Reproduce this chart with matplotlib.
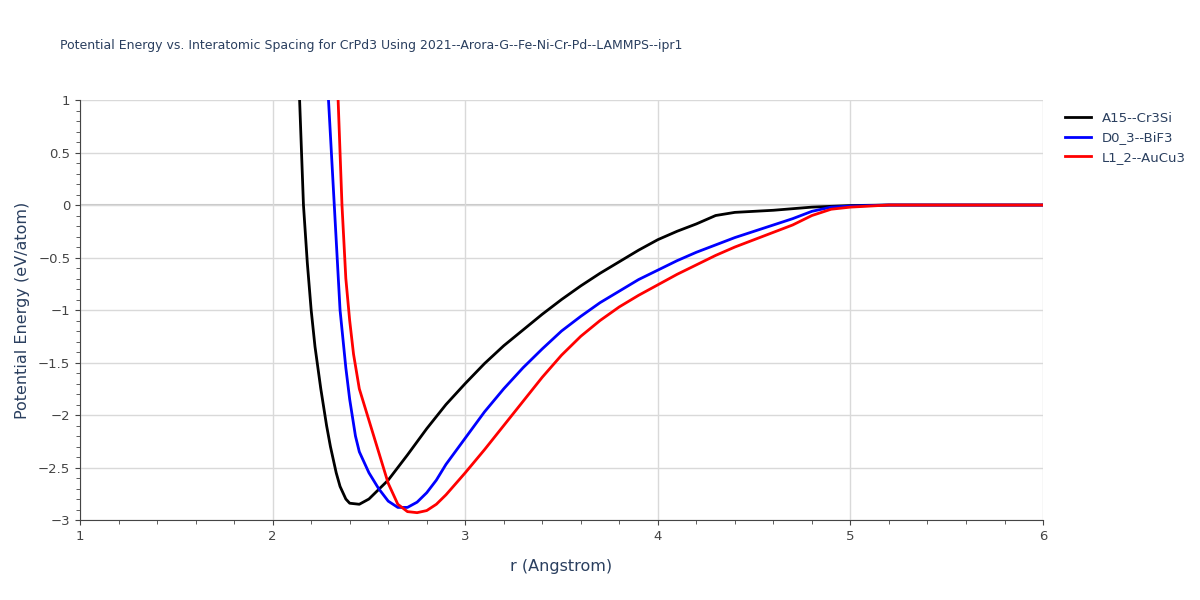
import matplotlib
matplotlib.use("Agg")
import matplotlib.pyplot as plt
from matplotlib.ticker import MultipleLocator, FuncFormatter

a15_r = [2.14, 2.16, 2.18, 2.2, 2.22, 2.25, 2.28, 2.3, 2.33, 2.35, 2.38, 2.4, 2.45, 2.5, 2.6, 2.7, 2.8, 2.9, 3.0, 3.1, 3.2, 3.3, 3.4, 3.5, 3.6, 3.7, 3.8, 3.9, 4.0, 4.1, 4.2, 4.3, 4.4, 4.6, 4.8, 5.0, 5.2, 6.0]
a15_e = [1.0, 0.0, -0.55, -1.0, -1.35, -1.75, -2.1, -2.3, -2.55, -2.68, -2.8, -2.84, -2.85, -2.8, -2.62, -2.38, -2.13, -1.9, -1.7, -1.51, -1.34, -1.19, -1.04, -0.9, -0.77, -0.65, -0.54, -0.43, -0.33, -0.25, -0.18, -0.1, -0.07, -0.05, -0.02, -0.005, 0.0, 0.0]
d03_r = [2.29, 2.32, 2.35, 2.38, 2.4, 2.43, 2.45, 2.5, 2.55, 2.6, 2.65, 2.7, 2.75, 2.8, 2.85, 2.9, 3.0, 3.1, 3.2, 3.3, 3.4, 3.5, 3.6, 3.7, 3.8, 3.9, 4.0, 4.1, 4.2, 4.3, 4.4, 4.5, 4.6, 4.7, 4.8, 4.9, 5.0, 5.2, 6.0]
d03_e = [1.0, 0.0, -1.0, -1.55, -1.85, -2.2, -2.35, -2.55, -2.7, -2.82, -2.88, -2.88, -2.83, -2.74, -2.62, -2.47, -2.22, -1.97, -1.75, -1.55, -1.37, -1.2, -1.06, -0.93, -0.82, -0.71, -0.62, -0.53, -0.45, -0.38, -0.31, -0.25, -0.19, -0.13, -0.06, -0.02, -0.01, 0.0, 0.0]
l12_r = [2.34, 2.36, 2.38, 2.4, 2.42, 2.45, 2.5, 2.55, 2.6, 2.65, 2.7, 2.75, 2.8, 2.85, 2.9, 3.0, 3.1, 3.2, 3.3, 3.4, 3.5, 3.6, 3.7, 3.8, 3.9, 4.0, 4.1, 4.2, 4.3, 4.4, 4.5, 4.6, 4.7, 4.8, 4.9, 5.0, 5.2, 6.0]
l12_e = [1.0, 0.0, -0.7, -1.1, -1.42, -1.75, -2.05, -2.35, -2.65, -2.85, -2.92, -2.93, -2.91, -2.85, -2.76, -2.55, -2.33, -2.1, -1.87, -1.64, -1.43, -1.25, -1.1, -0.97, -0.86, -0.76, -0.66, -0.57, -0.48, -0.4, -0.33, -0.26, -0.19, -0.1, -0.04, -0.02, 0.0, 0.0]

fig = plt.figure(figsize=(12, 6), dpi=100)
ax = fig.add_axes([0.0667, 0.1333, 0.8025, 0.7])
ax.grid(True, color="#d9d9d9", lw=1)
ax.axhline(0, color="#c8c8c8", lw=1.5, zorder=1)
ax.plot(a15_r, a15_e, color="black", lw=2, label="A15--Cr3Si")
ax.plot(d03_r, d03_e, color="blue", lw=2, label="D0_3--BiF3")
ax.plot(l12_r, l12_e, color="red", lw=2, label="L1_2--AuCu3")
ax.set_xlim(1, 6)
ax.set_ylim(-3, 1)
ax.xaxis.set_major_locator(MultipleLocator(1))
ax.xaxis.set_minor_locator(MultipleLocator(0.2))
ax.yaxis.set_major_locator(MultipleLocator(0.5))
ax.yaxis.set_minor_locator(MultipleLocator(0.1))
ax.yaxis.set_major_formatter(FuncFormatter(lambda v, p: ("%g" % v).replace("-", "\u2212")))
for s in ["top", "right"]:
    ax.spines[s].set_visible(False)
for s in ["left", "bottom"]:
    ax.spines[s].set_color("#444")
ax.tick_params(colors="#444", labelsize=9.5)
ax.tick_params(which="minor", length=3, color="#444")
ax.set_xlabel("r (Angstrom)", fontsize=11.5, color="#2a3f5f", labelpad=12)
ax.set_ylabel("Potential Energy (eV/atom)", fontsize=11.5, color="#2a3f5f", labelpad=6)
fig.text(0.05, 0.918, "Potential Energy vs. Interatomic Spacing for CrPd3 Using 2021--Arora-G--Fe-Ni-Cr-Pd--LAMMPS--ipr1",
         fontsize=9, color="#2a3f5f")
ax.legend(loc="upper left", bbox_to_anchor=(1.01, 1.0), frameon=False, fontsize=9.5, labelcolor="#2a3f5f")
fig.savefig("out.png", dpi=100)
